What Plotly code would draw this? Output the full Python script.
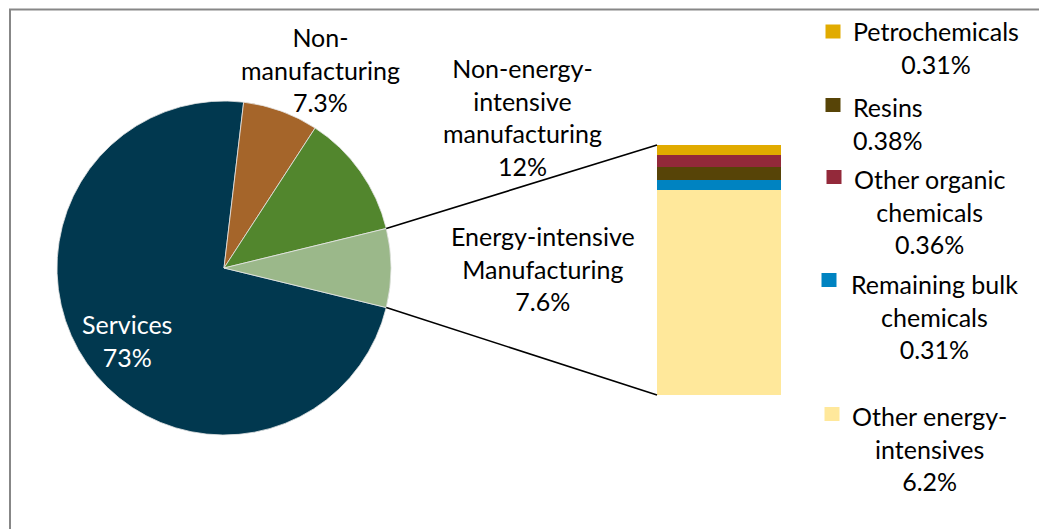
import math
import plotly.graph_objects as go

W, H = 1039, 529

# pie: share of total (%)
sectors = ["Services", "Non-manufacturing", "Non-energy-intensive manufacturing",
           "Energy-intensive Manufacturing"]
sector_labels = ["Services", "Non-<br>manufacturing", "Non-energy-<br>intensive<br>manufacturing",
                 "Energy-intensive<br>Manufacturing"]
sector_shares = [73, 7.3, 12, 7.6]
sector_colors = ["#01384F", "#A5652A", "#52862D", "#9BB88A"]

# bar: breakdown of energy-intensive manufacturing, bottom to top
subsectors = ["Other energy-intensives", "Remaining bulk chemicals", "Resins",
              "Other organic chemicals", "Petrochemicals"]
subsector_labels = ["Other energy-<br>intensives", "Remaining bulk<br>chemicals", "Resins",
                    "Other organic<br>chemicals", "Petrochemicals"]
subsector_shares = [6.2, 0.31, 0.38, 0.36, 0.31]
subsector_colors = ["#FFE89B", "#0083C1", "#574407", "#93293A", "#E1AB00"]

FONT = "Lato"
FS = 25

# layout geometry (pixels)
pie_cx, pie_cy, pie_r = 224, 268, 167
bar_x, bar_w = 719, 124
bar_top, bar_bot = 145, 395

bar_total = sum(subsector_shares)
ppu = (bar_bot - bar_top) / bar_total
y_lo = -(H - bar_bot) / ppu
y_hi = y_lo + H / ppu


def py(p):
    return 1 - p / H


def to_y(p):
    return (bar_bot - p) / ppu


total = sum(sector_shares)
half = sector_shares[-1] / total * 180

fig = go.Figure()

fig.add_trace(go.Pie(
    labels=sectors, values=sector_shares, sort=False,
    direction="clockwise", rotation=90 + half,
    marker=dict(colors=sector_colors, line=dict(color="#E6E6E6", width=0.8)),
    textinfo="none", hoverinfo="skip", showlegend=False,
    domain=dict(x=[(pie_cx - pie_r) / W, (pie_cx + pie_r) / W],
                y=[py(pie_cy + pie_r), py(pie_cy - pie_r)]),
))

for name, val, col in zip(subsectors, subsector_shares, subsector_colors):
    fig.add_trace(go.Bar(
        x=[bar_x], y=[val], width=bar_w, name=name,
        marker=dict(color=col, line=dict(width=0)),
        hoverinfo="skip", showlegend=False,
    ))

# connector lines from split slice to bar
a = math.radians(half)
ex = pie_cx + pie_r * math.cos(a)
for sgn, yv in [(-1, bar_total), (1, 0)]:
    ey = pie_cy + sgn * pie_r * math.sin(a)
    fig.add_shape(type="line", xref="x", yref="y",
                  x0=ex, y0=to_y(ey), x1=bar_x - bar_w / 2, y1=yv,
                  line=dict(color="black", width=1.6))

# chart border
fig.add_shape(type="rect", xref="paper", yref="paper",
              x0=10 / W, y0=-0.02, x1=1.02, y1=py(9.5),
              line=dict(color="#878787", width=2))


def pct(v):
    return f"{v:g}%"


annos = []
pie_pos = [(127, 340, "white"), (320, 70, "black"), (522, 117, "black"), (543, 268, "black")]
for lab, val, (x, y, c) in zip(sector_labels, sector_shares, pie_pos):
    annos.append(dict(x=x, y=py(y), xref="x", yref="paper", text=f"{lab}<br>{pct(val)}",
                      showarrow=False, align="center", xanchor="center", yanchor="middle",
                      font=dict(family=FONT, size=FS, color=c)))

bar_pos = [(929, 448, 832, 414), (934, 316, 829, 280), (888, 123, 833, 105),
           (929, 211, 834, 177), (936, 47.5, 833, 31.5)]
for lab, val, col, (x, y, kx, ky) in zip(subsector_labels, subsector_shares,
                                         subsector_colors, bar_pos):
    annos.append(dict(x=x, y=py(y), xref="x", yref="paper", text=f"{lab}<br>{pct(val)}",
                      showarrow=False, align="center", xanchor="center", yanchor="middle",
                      font=dict(family=FONT, size=FS, color="black")))
    fig.add_shape(type="rect", xref="x", yref="paper", x0=kx - 7.5, x1=kx + 7.5,
                  y0=py(ky + 7), y1=py(ky - 7), fillcolor=col, line=dict(width=0))

fig.update_layout(
    width=W, height=H,
    margin=dict(l=0, r=0, t=0, b=0),
    paper_bgcolor="white", plot_bgcolor="rgba(0,0,0,0)",
    barmode="stack", bargap=0,
    xaxis=dict(range=[0, W], visible=False, fixedrange=True),
    yaxis=dict(range=[y_lo, y_hi], visible=False, fixedrange=True),
    annotations=annos,
    font=dict(family=FONT, size=FS),
)

fig.write_html("out.html", config={"displayModeBar": False},
               post_script="document.body.style.margin = '0';")
